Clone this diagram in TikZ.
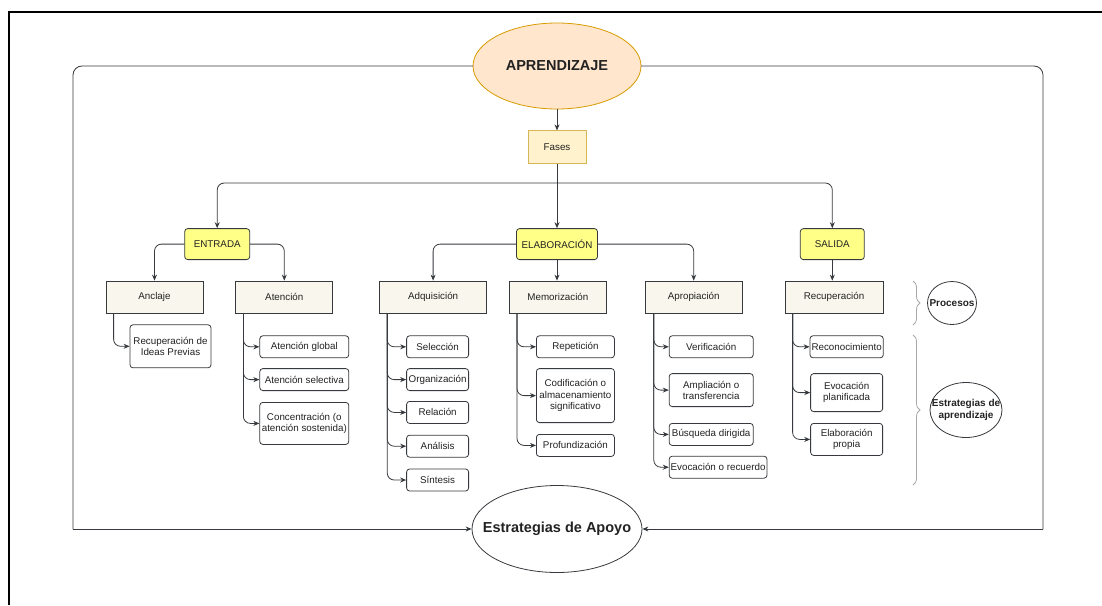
\documentclass[tikz,border=0pt]{standalone}
\usepackage{fontspec}
\setmainfont{Liberation Sans}
\usepackage{tikz}
\usetikzlibrary{positioning, shapes.geometric, arrows.meta, decorations.pathreplacing}
\usepackage{xcolor}
\definecolor{naranja}{HTML}{FFE6CC}
\definecolor{naranjaBorde}{HTML}{D79B00}
\definecolor{crema}{HTML}{FFF2CC}
\definecolor{cremaBorde}{HTML}{D6B656}
\definecolor{amarillo}{HTML}{FFFF88}
\definecolor{beige}{HTML}{F9F7ED}
\definecolor{gris}{HTML}{36393D}
\definecolor{letra}{HTML}{222222}
\definecolor{llave}{HTML}{A8A8A8}

\begin{document}
\begin{tikzpicture}[x=1pt, y=-1pt, font=\fontsize{9.8}{11.2}\selectfont, text=letra]

\tikzstyle{fase} = [
    rectangle,
    draw=gris,
    thick,
    fill=amarillo,
    rounded corners=3pt,
    minimum height=31pt
];
\tikzstyle{proceso} = [
    rectangle,
    draw=gris,
    thick,
    fill=beige,
    minimum width=97pt,
    minimum height=32pt
];
\tikzstyle{estrategia} = [
    rectangle,
    draw=gris,
    thick,
    fill=white,
    rounded corners=3pt,
    align=center,
    inner sep=1.5pt,
    minimum height=22pt
];
\tikzstyle{circulo} = [
    ellipse,
    draw=gris,
    thick,
    inner sep=0pt
];
\tikzstyle{flecha} = [
    draw=gris,
    thick,
    -{Stealth[length=6pt, width=5pt]}
];
\tikzstyle{rama} = [flecha, rounded corners=7pt];
\tikzstyle{linea} = [draw=gris, thick, line cap=rect, rounded corners=9pt];

\useasboundingbox (0,0) rectangle (1102,605);
\draw[line width=1.2pt] (9,605) -- (9,12) -- (1102,12);

\node[circulo, draw=naranjaBorde, fill=naranja, minimum width=168pt, minimum height=86pt,
      font=\fontsize{14.5}{17}\selectfont\bfseries] (aprendizaje) at (557,66) {APRENDIZAJE};
\node[rectangle, draw=cremaBorde, fill=crema, thick, minimum width=58pt, minimum height=33pt,
      below=21pt of aprendizaje] (fases) {Fases};

\node[fase, minimum width=81pt, below=64pt of fases] (elaboracion) {ELABORACIÓN};
\node[fase, minimum width=65pt, left=266pt of elaboracion] (entrada) {ENTRADA};
\node[fase, minimum width=64pt, right=202pt of elaboracion] (salida) {SALIDA};

\node[proceso] (anclaje) at (154.5,297) {Anclaje};
\node[proceso, right=32pt of anclaje] (atencion) {Atención};
\node[proceso, minimum width=107pt, right=46pt of atencion] (adquisicion) {Adquisición};
\node[proceso, right=22pt of adquisicion] (memorizacion) {Memorización};
\node[proceso, right=38pt of memorizacion] (apropiacion) {Apropiación};
\node[proceso, minimum width=98pt, right=42pt of apropiacion] (recuperacion) {Recuperación};

\node[estrategia, minimum width=81pt, minimum height=43pt,
      below right=11pt and 24pt of anclaje.south west] (ideas) {Recuperación de\\Ideas Previas};

\node[estrategia, minimum width=89pt, below right=22pt and 24pt of atencion.south west] (global) {Atención global};
\node[estrategia, minimum width=89pt, below=10pt of global] (selectiva) {Atención selectiva};
\node[estrategia, minimum width=89pt, minimum height=42pt, below=11pt of selectiva] (concentracion) {Concentración (o\\atención sostenida)};

\node[estrategia, minimum width=62pt, below right=22pt and 27pt of adquisicion.south west] (seleccion) {Selección};
\node[estrategia, minimum width=62pt, below=10pt of seleccion] (organizacion) {Organización};
\node[estrategia, minimum width=62pt, below=10pt of organizacion] (relacion) {Relación};
\node[estrategia, minimum width=62pt, below=11pt of relacion] (analisis) {Análisis};
\node[estrategia, minimum width=62pt, below=11pt of analisis] (sintesis) {Síntesis};

\node[estrategia, minimum width=78pt, below right=22pt and 27pt of memorizacion.south west] (repeticion) {Repetición};
\node[estrategia, minimum width=78pt, minimum height=54pt, below=10pt of repeticion] (codificacion) {Codificación o\\almacenamiento\\significativo};
\node[estrategia, minimum width=78pt, below=11pt of codificacion] (profundizacion) {Profundización};

\node[estrategia, minimum width=84pt, below right=22pt and 24pt of apropiacion.south west] (verificacion) {Verificación};
\node[estrategia, minimum width=84pt, minimum height=33pt, below=15pt of verificacion] (ampliacion) {Ampliación o\\transferencia};
\node[estrategia, minimum width=84pt, below=16pt of ampliacion] (busqueda) {Búsqueda dirigida};
\node[estrategia, minimum width=95pt, below right=10pt and 0pt of busqueda.south west] (evocacion) {Evocación o recuerdo};

\node[estrategia, minimum width=72pt, below right=22pt and 25pt of recuperacion.south west] (reconocimiento) {Reconocimiento};
\node[estrategia, minimum width=72pt, minimum height=38pt, below=15pt of reconocimiento] (planificada) {Evocación\\planificada};
\node[estrategia, minimum width=72pt, minimum height=32pt, below=11pt of planificada] (propia) {Elaboración\\propia};

\node[circulo, minimum width=49pt, minimum height=43pt,
      label={[font=\bfseries]center:Procesos}] (procesos) at (952,303) {};
\node[circulo, minimum width=72pt, minimum height=55pt,
      label={[font=\bfseries, align=center]center:Estrategias de\\aprendizaje}] (aprender) at (966,410) {};
\node[circulo, minimum width=170pt, minimum height=87pt,
      label={[font=\fontsize{14.5}{17}\selectfont\bfseries]center:Estrategias de Apoyo}] (apoyo) at (557,529) {};

\coordinate (barra) at (fases.south |- 0,183);
\coordinate (esqIzq) at (73,529);
\coordinate (esqDer) at (1043,529);

\draw[flecha] (aprendizaje) -- (fases);
\draw[flecha] (fases) -- (elaboracion);
\draw[rama] (barra) -| (entrada.north);
\draw[rama] (barra) -| (salida.north);

\draw[rama] (entrada.west) -| (anclaje.north);
\draw[rama] (entrada.east) -| (atencion.north);
\draw[rama] (elaboracion.west) -| (adquisicion.north);
\draw[flecha] (elaboracion.south) -- (elaboracion.south |- memorizacion.north);
\draw[rama] (elaboracion.east) -| (apropiacion.north);
\draw[flecha] (salida.south) -- (salida.south |- recuperacion.north);

\draw[rama] ([xshift=8pt]anclaje.south west) |- (ideas.west);
\foreach \hijo in {global, selectiva, concentracion}
    \draw[rama] ([xshift=8pt]atencion.south west) |- (\hijo.west);
\foreach \hijo in {seleccion, organizacion, relacion, analisis, sintesis}
    \draw[rama] ([xshift=8pt]adquisicion.south west) |- (\hijo.west);
\foreach \hijo in {repeticion, codificacion, profundizacion}
    \draw[rama] ([xshift=8pt]memorizacion.south west) |- (\hijo.west);
\foreach \hijo in {verificacion, ampliacion, busqueda, evocacion}
    \draw[rama] ([xshift=9pt]apropiacion.south west) |- (\hijo.west);
\foreach \hijo in {reconocimiento, planificada, propia}
    \draw[rama] ([xshift=8pt]recuperacion.south west) |- (\hijo.west);

\draw[linea] (aprendizaje.west) -| (esqIzq);
\draw[flecha] (esqIzq) -- (apoyo.west);
\draw[linea] (aprendizaje.east) -| (esqDer);
\draw[flecha] (esqDer) -- (apoyo.east);

\draw[llave, thick, decorate, decoration={brace, amplitude=7pt}] (913,281) -- (913,325);
\draw[llave, thick, decorate, decoration={brace, amplitude=7pt}] (913,335) -- (913,485);

\end{tikzpicture}
\end{document}
